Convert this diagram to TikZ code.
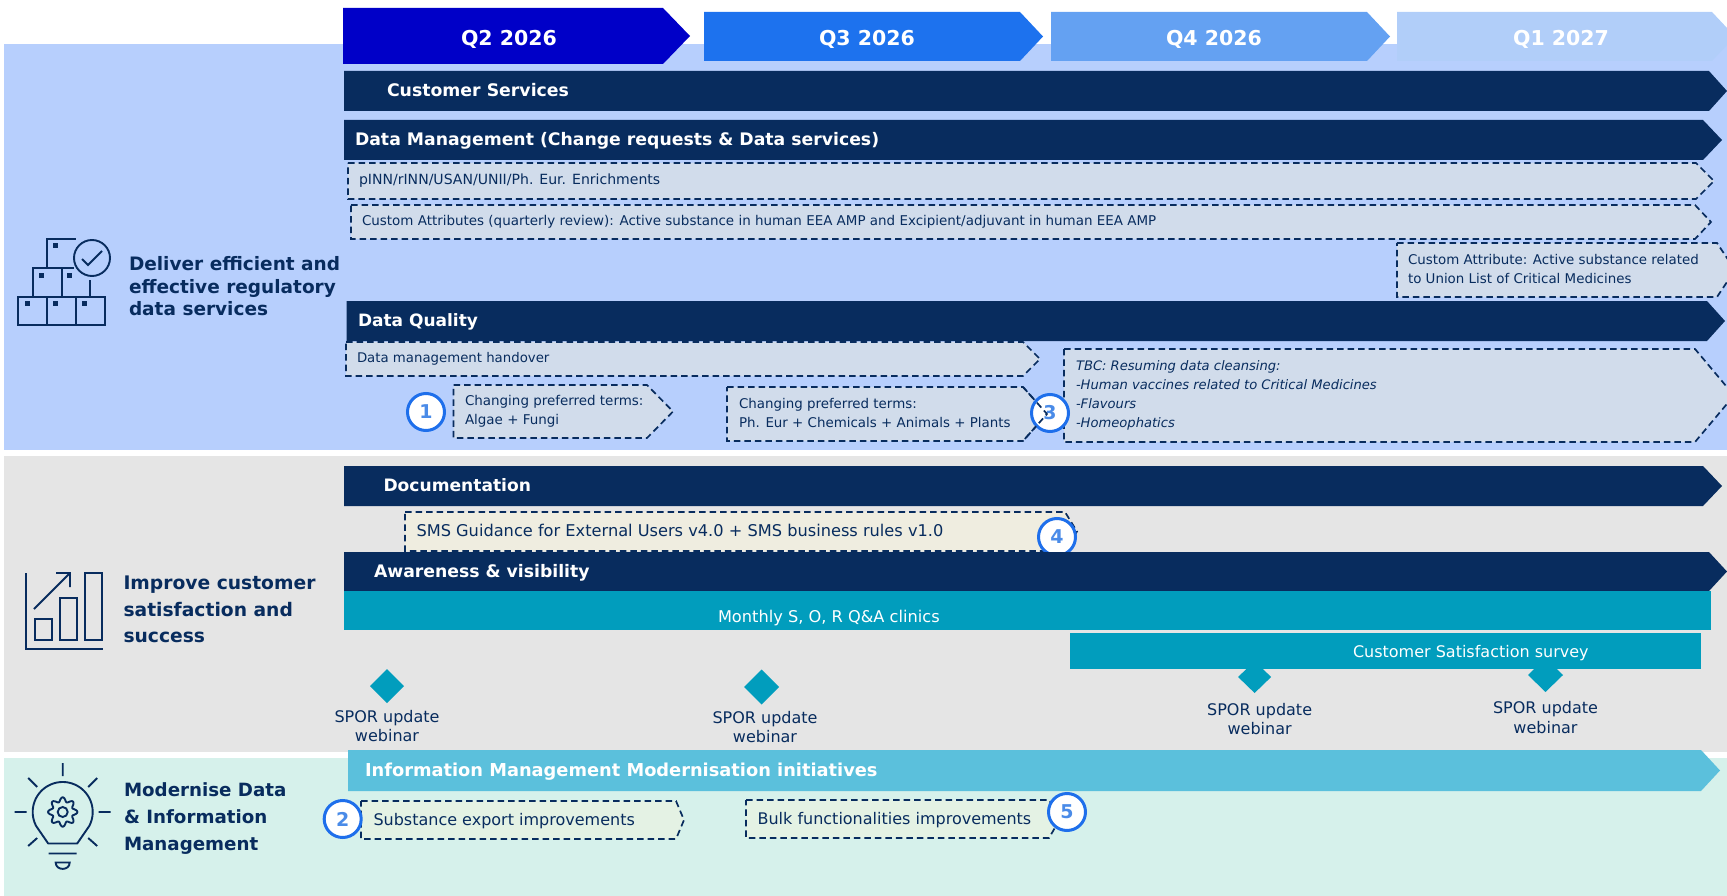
\documentclass[tikz,border=0pt]{standalone}
\usepackage{fontspec}
\setmainfont{DejaVu Sans}
\definecolor{navy}{HTML}{082C5E}
\definecolor{bandblue}{HTML}{B7CFFD}
\definecolor{bandgrey}{HTML}{E5E5E5}
\definecolor{bandteal}{HTML}{D6F1EB}
\definecolor{dashfill}{HTML}{D1DCEB}
\definecolor{creamfill}{HTML}{EFEDE0}
\definecolor{greenfill}{HTML}{E4F2E4}
\definecolor{qa}{HTML}{0000C8}
\definecolor{qb}{HTML}{1D72EE}
\definecolor{qc}{HTML}{64A1F2}
\definecolor{qd}{HTML}{B1CEF9}
\definecolor{tealbar}{HTML}{019DBD}
\definecolor{skybar}{HTML}{5BC0DC}
\definecolor{ringblue}{HTML}{1E6FEB}
\definecolor{digitblue}{HTML}{4A8BE8}
\newcommand{\fs}[1]{\fontsize{#1}{#1}\selectfont}
% x, top, bottom, shoulder, tip, style
\newcommand{\pent}[6]{\path[#6] (#1,#2) -- (#4,#2) -- (#5,{(#2+#3)/2}) -- (#4,#3) -- (#1,#3) -- cycle;}
\newcommand{\dia}[4]{\fill[tealbar] (#1,{#2-#4}) -- ({#1+#3},#2) -- (#1,{#2+#4}) -- ({#1-#3},#2) -- cycle;}
\tikzset{
  x=1pt,y=-1pt,
  dashbox/.style={draw=navy,line width=1.7pt,dash pattern=on 6.5pt off 4pt},
  txtbase/.style={inner sep=0pt,outer sep=0pt},
  headlabel/.style={txtbase,anchor=west,yshift=-2pt,text=white,font=\fs{#1}\bfseries,text height=13pt,text depth=4pt},
  qlabel/.style={txtbase,anchor=center,yshift=-1pt,text=white,font=\fs{20.5}\bfseries},
  smalltxt/.style={txtbase,anchor=west,yshift=-2pt,text=navy,font=\fs{#1},text height=10pt,text depth=3pt},
  multitxt/.style={txtbase,anchor=west,yshift=-1.5pt,text=navy,font=\fontsize{#1}{19}\selectfont,align=left},
  midtxt/.style={txtbase,anchor=west,yshift=-2pt,text=navy,font=\fs{#1},text height=12pt,text depth=4pt},
  teallabel/.style={txtbase,anchor=west,yshift=-2pt,text=white,font=\fs{#1},text height=12pt,text depth=4pt},
  sidelabel/.style 2 args={txtbase,anchor=west,text=navy,font=\fontsize{#1}{#2}\selectfont\bfseries,align=left},
  webinar/.style={txtbase,anchor=center,yshift=-1pt,text=navy,font=\fontsize{16}{19.5}\selectfont,align=center},
  ring/.style={circle,draw=ringblue,line width=3pt,fill=white,minimum size=37pt,inner sep=0pt,text=digitblue,font=\fs{19}\bfseries},
  ic/.style={draw=navy,line width=1.9pt,fill=none},
}
\begin{document}
\begin{tikzpicture}
\useasboundingbox (0,0) rectangle (1727,896);
\clip (0,0) rectangle (1727,896);
% bands
\fill[bandblue] (4,44) rectangle (1727,450);
\fill[bandgrey] (4,456) rectangle (1727,752);
\fill[bandteal] (4,758) rectangle (1727,896);
% timeline
\pent{343}{8}{64}{663}{690}{fill=qa}
\pent{704}{12}{61}{1020}{1043}{fill=qb}
\pent{1051}{12}{61}{1367}{1390}{fill=qc}
\pent{1397}{12}{61}{1712}{1735}{fill=qd}
\node[qlabel] (q2) at (509,38) {Q2 2026};
\node[qlabel] (q3) at (867,38) {Q3 2026};
\node[qlabel] (q4) at (1214,38) {Q4 2026};
\node[qlabel] (q1) at (1561,38) {Q1 2027};
% heading bars
\pent{344}{71}{111}{1709}{1727}{fill=navy}
\node[headlabel=17.3] (cs) at (387,90) {Customer Services};
\pent{344}{120}{160}{1703}{1722}{fill=navy}
\node[headlabel=17.27] (dm) at (355,139) {Data Management (Change requests \& Data services)};
% dashed boxes
\pent{348}{163}{199}{1696}{1714}{dashbox,fill=dashfill}
\node[smalltxt=14.05] (pinn) at (359,179) {pINN/rINN/USAN/UNII/Ph. Eur. Enrichments};
\pent{351}{205}{239}{1695}{1711}{dashbox,fill=dashfill}
\node[smalltxt=13.45] (ca) at (362,220) {Custom Attributes (quarterly review): Active substance in human EEA AMP and Excipient/adjuvant in human EEA AMP};
\pent{1397}{243}{297}{1717}{1735}{dashbox,fill=dashfill}
\node[multitxt=13.4,yshift=1.5pt] (cau) at (1408,269) {Custom Attribute: Active substance related\\to Union List of Critical Medicines};
\pent{346.5}{301}{341}{1707}{1725}{fill=navy}
\node[headlabel=17] (dq) at (358,320) {Data Quality};
\pent{346}{342}{376}{1023}{1040}{dashbox,fill=dashfill}
\node[smalltxt=13.3] (hand) at (357,357) {Data management handover};
\pent{453.5}{385}{438}{647}{673}{dashbox,fill=dashfill}
\node[multitxt=13.45] (pt1) at (465,410) {Changing preferred terms:\\Algae + Fungi};
\node[ring] (r1) at (426,412) {1};
\pent{727}{387}{441}{1023}{1047}{dashbox,fill=dashfill}
\node[multitxt=13.4] (pt2) at (739,412) {Changing preferred terms:\\Ph. Eur + Chemicals + Animals + Plants};
\pent{1064}{349}{442}{1695}{1734}{dashbox,fill=dashfill}
\node[multitxt=13.1,font=\fontsize{13.1}{19}\selectfont\itshape] (tbc) at (1076,394) {TBC: Resuming data cleansing:\\-Human vaccines related to Critical Medicines\\-Flavours\\-Homeophatics};
\node[ring] (r3) at (1050,413) {3};
\draw[dashbox] (1023,387) -- (1047,414) -- (1023,441);
% grey band
\pent{344}{466}{506}{1703}{1722}{fill=navy}
\node[headlabel=17.1] (doc) at (383.5,485) {Documentation};
\pent{405}{512}{551}{1065}{1077}{dashbox,fill=creamfill}
\node[midtxt=16.2] (sms) at (416.5,530) {SMS Guidance for External Users v4.0 + SMS business rules v1.0};
\node[ring] (r4) at (1057,537) {4};
\pent{344}{552}{591}{1709}{1727}{fill=navy}
\node[headlabel=17.25] (aw) at (374,571) {Awareness \& visibility};
\fill[tealbar] (344,591) rectangle (1711,630);
\node[teallabel=16.2] (mon) at (718,616) {Monthly S, O, R Q\&A clinics};
% milestones
\dia{387}{686}{17}{17}
\dia{761.5}{687}{17.5}{17.5}
\dia{1254.6}{677}{16.5}{16}
\dia{1545.5}{675}{17.5}{17}
\fill[tealbar] (1070,633) rectangle (1701,669);
\node[teallabel=16] (sur) at (1353,651) {Customer Satisfaction survey};
\node[webinar] (w1) at (387,725) {SPOR update\\webinar};
\node[webinar] (w2) at (765,726) {SPOR update\\webinar};
\node[webinar] (w3) at (1259.6,718) {SPOR update\\webinar};
\node[webinar] (w4) at (1545.5,716.5) {SPOR update\\webinar};
% modernise
\pent{348}{750}{791}{1701}{1720}{fill=skybar}
\node[headlabel=17.8] (im) at (365,770) {Information Management Modernisation initiatives};
\pent{361}{801}{839}{676}{684}{dashbox,fill=greenfill}
\node[midtxt=16] (sub) at (373.5,819) {Substance export improvements};
\node[ring] (r2) at (342.7,819) {2};
\pent{746}{800}{838}{1049}{1060}{dashbox,fill=greenfill}
\node[midtxt=16] (bulk) at (757.6,818) {Bulk functionalities improvements};
\node[ring] (r5) at (1067,812) {5};
% side labels
\node[sidelabel={18.5}{22.5}] (s1) at (129,286.5) {Deliver efficient and\\effective regulatory\\data services};
\node[sidelabel={18.7}{26.5}] (s2) at (123.5,609.5) {Improve customer\\satisfaction and\\success};
\node[sidelabel={18.25}{27}] (s3) at (124,818.5) {Modernise Data\\\& Information\\Management};
% icon 1
\draw[ic] (18,297) rectangle (105,325) (47,297) -- (47,325) (76,297) -- (76,325);
\draw[ic] (33,297) -- (33,268) -- (74,268) (62,268) -- (62,297);
\draw[ic] (47,268) -- (47,239) -- (76,239);
\draw[ic] (92,258) circle (18);
\draw[ic] (82,259) -- (88,265) -- (102,251);
\draw[ic] (90,280) -- (90,297);
\foreach \a/\b in {55/246,41/275,69/275,27/303,55/303,84/303}{\fill[navy] (\a-2.5,\b-2.5) rectangle (\a+2.5,\b+2.5);}
% icon 2
\draw[ic] (26,573) -- (26,649) -- (103,649);
\draw[ic] (35,619) rectangle (52,640);
\draw[ic] (60,598) rectangle (77,640);
\draw[ic] (85,573) rectangle (102,640);
\draw[ic] (34,609) -- (70,573) (56,573) -- (70,573) -- (70,587);
% icon 3
\begin{scope}[shift={(62.7,812)}]
\draw[ic,line join=round] (-14.5,31.5) -- plot[samples=80,domain=152:388] (\x:30) -- (14.5,31.5) -- cycle;
\draw[ic] (0,-49) -- (0,-36) (-34.5,-34) -- (-25.5,-25) (34.5,-34) -- (25.5,-25)
 (-48,0) -- (-36,0) (48,0) -- (36,0) (-34.5,34) -- (-25.5,26) (34.5,34) -- (25.5,26)
 (-14,41.5) -- (14,41.5);
\draw[ic] (-7,50.5) -- (7,50.5) .. controls (7,59) and (-7,59) .. (-7,50.5) -- cycle;
\draw[ic] (0,0) circle (5);
\draw[ic,line join=round] plot[samples=97,domain=0:360,smooth] (\x:{12.5+2.2*cos(8*\x)}) -- cycle;
\end{scope}
\end{tikzpicture}
\end{document}
